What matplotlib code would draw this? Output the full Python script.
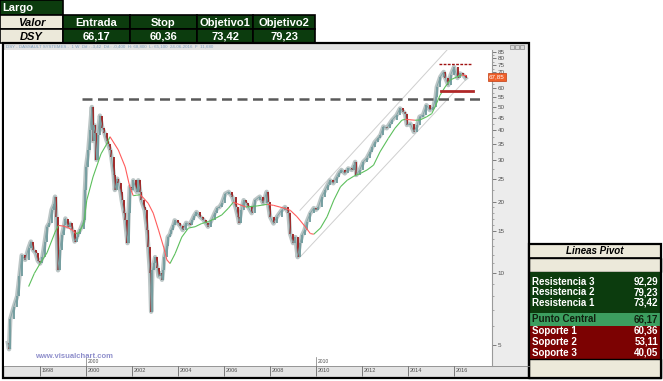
import matplotlib

matplotlib.use("Agg")
import matplotlib.pyplot as plt
import matplotlib.transforms as mtransforms
from matplotlib.collections import LineCollection
from matplotlib.patches import Rectangle
from matplotlib.ticker import FixedLocator, NullFormatter

plt.rcParams["font.family"] = ["Liberation Sans", "DejaVu Sans"]

W, H = 663, 381

# ── data ──────────────────────────────────────────────────────────────────
price_years = [
    1996.60, 1996.65, 1996.70, 1996.85, 1997.00, 1997.10, 1997.20, 1997.35, 1997.50, 1997.60,
    1997.70, 1997.80, 1997.90, 1998.00, 1998.10, 1998.20, 1998.30, 1998.40, 1998.50, 1998.60,
    1998.65, 1998.70, 1998.78, 1998.85, 1998.95, 1999.05, 1999.10, 1999.20, 1999.30, 1999.40,
    1999.50, 1999.60, 1999.65, 1999.75, 1999.90, 1999.95, 2000.00, 2000.10, 2000.17, 2000.25,
    2000.30, 2000.35, 2000.40, 2000.45, 2000.50, 2000.60, 2000.70, 2000.80, 2000.90, 2000.95,
    2001.05, 2001.10, 2001.20, 2001.25, 2001.35, 2001.40, 2001.50, 2001.55, 2001.65, 2001.70,
    2001.80, 2001.85, 2001.90, 2002.00, 2002.05, 2002.15, 2002.20, 2002.27, 2002.35, 2002.40,
    2002.50, 2002.55, 2002.65, 2002.70, 2002.78, 2002.83, 2002.88, 2002.95, 2003.00, 2003.10,
    2003.15, 2003.25, 2003.30, 2003.35, 2003.40, 2003.50, 2003.55, 2003.65, 2003.70, 2003.80,
    2003.85, 2004.00, 2004.10, 2004.20, 2004.35, 2004.50, 2004.60, 2004.70, 2004.80, 2004.95,
    2005.10, 2005.20, 2005.30, 2005.45, 2005.60, 2005.70, 2005.80, 2005.90, 2006.05, 2006.20,
    2006.35, 2006.50, 2006.60, 2006.65, 2006.75, 2006.85, 2006.95, 2007.05, 2007.20, 2007.35,
    2007.55, 2007.70, 2007.85, 2007.90, 2008.00, 2008.15, 2008.30, 2008.50, 2008.65, 2008.80,
    2008.87, 2009.00, 2009.10, 2009.20, 2009.30, 2009.40, 2009.50, 2009.60, 2009.75, 2009.90,
    2010.00, 2010.10, 2010.25, 2010.40, 2010.50, 2010.60, 2010.75, 2010.90, 2011.00, 2011.10,
    2011.25, 2011.40, 2011.55, 2011.65, 2011.70, 2011.75, 2011.90, 2012.05, 2012.20, 2012.35,
    2012.45, 2012.55, 2012.70, 2012.80, 2012.93, 2013.07, 2013.20, 2013.30, 2013.50, 2013.65,
    2013.80, 2013.87, 2013.95, 2014.10, 2014.25, 2014.40, 2014.50, 2014.65, 2014.80, 2014.95,
    2015.10, 2015.20, 2015.25, 2015.40, 2015.55, 2015.62, 2015.75, 2015.85, 2016.00, 2016.15,
    2016.25, 2016.40, 2016.50,
]
price_vals = [
    5.1, 4.8, 6.4, 7.2, 8.0, 9.7, 11.9, 11.4, 12.8, 13.6,
    12.5, 12.2, 11.3, 11.0, 11.7, 13.5, 15.7, 16.3, 18.5, 19.5,
    21.0, 17.3, 10.3, 12.5, 14.5, 16.0, 17.0, 15.7, 16.2, 15.2,
    13.6, 14.2, 14.7, 15.3, 16.7, 22.4, 28.0, 33.0, 40.0, 50.0,
    36.0, 42.0, 38.8, 30.0, 38.0, 46.0, 41.0, 38.8, 36.0, 35.0,
    33.0, 30.9, 26.0, 22.4, 25.0, 24.0, 22.0, 20.3, 18.0, 16.7,
    13.4, 18.0, 23.1, 22.5, 24.6, 23.0, 22.0, 24.6, 22.0, 20.3,
    19.0, 18.4, 15.2, 12.9, 10.0, 6.9, 10.3, 11.0, 11.7, 10.5,
    9.7, 10.0, 9.4, 10.3, 11.7, 13.0, 14.2, 14.6, 15.2, 16.0,
    16.7, 16.2, 15.8, 15.2, 16.3, 16.0, 16.7, 17.5, 18.1, 17.3,
    16.8, 16.3, 15.7, 16.7, 18.0, 18.8, 19.0, 19.7, 21.6, 22.0,
    21.0, 19.0, 17.3, 16.3, 18.5, 20.3, 19.7, 19.0, 17.9, 20.3,
    21.0, 19.7, 22.0, 20.0, 17.3, 16.2, 17.3, 18.4, 19.0, 17.9,
    14.7, 13.4, 14.2, 11.7, 13.4, 14.5, 15.2, 16.5, 17.9, 18.8,
    18.5, 19.0, 21.0, 22.4, 23.5, 24.6, 23.9, 25.4, 26.5, 27.2,
    26.3, 27.6, 27.2, 28.5, 29.4, 25.9, 27.2, 29.4, 30.4, 32.4,
    34.0, 35.6, 37.0, 38.1, 41.4, 40.7, 42.5, 44.0, 46.2, 49.3,
    47.7, 46.9, 42.0, 42.6, 39.3, 42.0, 45.5, 46.2, 50.9, 48.5,
    50.0, 55.0, 60.7, 66.9, 70.2, 66.2, 61.8, 68.1, 73.6, 66.2,
    69.2, 68.1, 66.2,
]

ma_years = [
    1997.50, 1997.75, 1998.00, 1998.30, 1998.65, 1998.80, 1999.00, 1999.20, 1999.40, 1999.55,
    1999.70, 1999.90, 2000.03, 2000.30, 2000.65, 2000.87, 2001.04, 2001.40, 2001.70, 2001.90,
    2002.05, 2002.20, 2002.35, 2002.50, 2002.70, 2002.92, 2003.15, 2003.37, 2003.51, 2003.65,
    2003.87, 2004.16, 2004.45, 2004.74, 2005.03, 2005.32, 2005.61, 2005.90, 2006.19, 2006.40,
    2006.95, 2007.44, 2007.87, 2008.16, 2008.60, 2008.88, 2009.17, 2009.53, 2009.75, 2009.90,
    2010.19, 2010.48, 2010.77, 2011.06, 2011.35, 2011.64, 2011.93, 2012.22, 2012.50, 2012.78,
    2013.14, 2013.43, 2013.73, 2013.87, 2014.30, 2014.52, 2014.81, 2015.03, 2015.17, 2015.39,
    2015.61, 2015.83, 2016.12, 2016.33, 2016.55,
]
ma_vals = [
    8.8, 10.0, 11.0, 12.2, 14.9, 15.9, 15.8, 15.6, 15.2, 14.7,
    14.8, 16.3, 20.3, 25.4, 31.8, 34.6, 37.5, 33.0, 28.0, 23.1,
    21.2, 21.3, 21.4, 20.7, 19.7, 17.9, 15.2, 12.9, 11.4, 11.0,
    12.1, 14.2, 15.5, 15.7, 16.2, 16.5, 17.0, 17.6, 18.8, 19.9,
    19.0, 19.2, 19.5, 19.3, 18.8, 18.4, 17.3, 15.7, 14.7, 14.6,
    15.5, 17.3, 20.3, 23.1, 24.6, 25.6, 26.3, 27.2, 28.5, 32.4,
    36.9, 40.7, 44.0, 44.4, 44.0, 44.1, 45.5, 46.9, 50.0, 56.0,
    60.7, 64.9, 66.9, 68.1, 67.7,
]

channel_upper_years = [2009.3, 2015.75]
channel_upper_vals = [18.4, 88.0]
channel_lower_years = [2009.3, 2016.5]
channel_lower_vals = [11.7, 65.0]

level_long = 54.0
level_long_years = [1999.83, 2017.26]
level_target = 75.5
level_target_years = [2015.35, 2016.74]
level_stop = 58.3
level_stop_years = [2015.43, 2016.83]

last_price = 66.8
last_price_text = "67,85"

year_ticks = [1998, 2000, 2002, 2004, 2006, 2008, 2010, 2012, 2014, 2016]
price_ticks = [5, 10, 15, 20, 25, 30, 35, 40, 45, 50, 55, 60, 65, 70, 75, 80, 85]
hidden_price_ticks = [65]  # sits under the last-price tag

table_headers = ["Entrada", "Stop", "Objetivo1", "Objetivo2"]
table_values = ["66,17", "60,36", "73,42", "79,23"]

pivot_labels = ["Resistencia 3", "Resistencia 2", "Resistencia 1", "Punto Central",
                "Soporte 1", "Soporte 2", "Soporte 3"]
pivot_values = ["92,29", "79,23", "73,42", "66,17", "60,36", "53,11", "40,05"]

# ── colours ───────────────────────────────────────────────────────────────
DARK_GREEN = "#0c3c0e"
BEIGE = "#ece9da"
MID_GREEN = "#3c9e5f"
DARK_RED = "#7c0202"

fig = plt.figure(figsize=(W / 100, H / 100), dpi=100)

# overlay in pixel coordinates (tables, strips, frame)
ov = fig.add_axes([0, 0, 1, 1], zorder=0)
ov.set_xlim(0, W)
ov.set_ylim(H, 0)
ov.axis("off")


def cell(x0, y0, x1, y1, fc, text="", color="white", ha="center", style="normal", size=8.0, tx=None):
    ov.add_patch(Rectangle((x0, y0), x1 - x0, y1 - y0, fc=fc, ec="black", lw=1.2))
    if text:
        if tx is None:
            tx = (x0 + x1) / 2
        ov.text(tx, (y0 + y1) / 2 + 0.5, text, color=color, ha=ha, va="center",
                fontsize=size, fontweight="bold", style=style)


# top table
cell(0, 0, 63, 15, DARK_GREEN, "Largo", ha="left", tx=2)
col_edges = [63, 130, 197, 253, 315]
cell(0, 15, 63, 29, BEIGE, "Valor", color="black", style="italic")
cell(0, 29, 63, 43, BEIGE, "DSY", color="black", style="italic")
for i, (hd, val) in enumerate(zip(table_headers, table_values)):
    cell(col_edges[i], 15, col_edges[i + 1], 29, DARK_GREEN, hd)
    cell(col_edges[i], 29, col_edges[i + 1], 43, DARK_GREEN, val)

# chart panel background strips
ov.add_patch(Rectangle((4, 44), 525, 6, fc="#e2e2e2", ec="none"))
ov.add_patch(Rectangle((492, 50), 37, 328, fc="#ececec", ec="none"))
ov.add_patch(Rectangle((4, 366), 525, 12, fc="#e4e4e4", ec="none"))
ov.plot([4, 529], [366, 366], color="#888", lw=0.6)
ov.add_patch(Rectangle((3, 43), 526, 335, fill=False, ec="black", lw=1.6))
ov.text(6, 47, "DSY - DASSAULT SYSTEMES -  1 W  Dif.: -3,42  Dif.: -0,400  H: 68,800  L: 65,100  "
        "24-06-2016  F  11,680", fontsize=3.2, color="#7c9fbe", va="center")
for bx in (510, 515, 520):
    ov.add_patch(Rectangle((bx, 44.5), 4, 4, fc="#d8d8d8", ec="#777", lw=0.4))

# pivot table
px0, px1 = 529, 661
ov.add_patch(Rectangle((px0, 244), px1 - px0, 14, fc=BEIGE, ec="black", lw=1.2))
ov.text((px0 + px1) / 2, 251.5, "Lineas Pivot", ha="center", va="center",
        fontsize=7, fontweight="bold", style="italic")
ov.add_patch(Rectangle((px0, 258), px1 - px0, 14, fc=BEIGE, ec="black", lw=1.0))
ov.add_patch(Rectangle((px0, 272), px1 - px0, 41, fc=DARK_GREEN, ec="none"))
ov.add_patch(Rectangle((px0, 313), px1 - px0, 13, fc=MID_GREEN, ec="none"))
ov.add_patch(Rectangle((px0, 326), px1 - px0, 33, fc=DARK_RED, ec="none"))
ov.add_patch(Rectangle((px0, 359), px1 - px0, 19, fc=BEIGE, ec="black", lw=1.0))
ov.add_patch(Rectangle((px0, 244), px1 - px0, 134, fill=False, ec="black", lw=1.6))
pivot_y = [281.7, 292.3, 302.7, 319.5, 330.7, 341.7, 352.7]
for lab, val, yy in zip(pivot_labels, pivot_values, pivot_y):
    tc = "#10200f" if lab == "Punto Central" else "white"
    ov.text(px0 + 3, yy, lab, color=tc, ha="left", va="center", fontsize=7, fontweight="bold")
    ov.text(px1 - 3, yy, val, color=tc, ha="right", va="center", fontsize=7, fontweight="bold")

# ── price chart ───────────────────────────────────────────────────────────
ax = fig.add_axes([4 / W, 15 / H, 488 / W, 316 / H], zorder=2)
ax.set_yscale("log")
ax.set_xlim(1996.43, 2017.65)
ax.set_ylim(4.08, 86.8)
ax.set_facecolor("white")
for side in ("top", "left", "bottom"):
    ax.spines[side].set_visible(False)
ax.spines["right"].set_color("#9a9a9a")
ax.spines["right"].set_linewidth(0.8)

# candles: wick band + bodies
opens = price_vals[:-1]
closes = price_vals[1:]
ax.plot(price_years, price_vals, color="#bcc6c6", lw=3.2, zorder=2)
body_colors = ["#6e9a9c" if c >= o else "#9c1c1c" for o, c in zip(opens, closes)]
ax.vlines(price_years[1:], opens, closes, colors=body_colors, lw=1.3, zorder=3)
ax.plot(price_years, price_vals, color="#7fa2a4", lw=0.6, zorder=3)

# moving average, coloured by slope
segs = [[(ma_years[i], ma_vals[i]), (ma_years[i + 1], ma_vals[i + 1])] for i in range(len(ma_years) - 1)]
seg_colors = ["#5cbf5c" if ma_vals[i + 1] >= ma_vals[i] else "#ff5c5c" for i in range(len(ma_years) - 1)]
ax.add_collection(LineCollection(segs, colors=seg_colors, lw=0.8, zorder=4))

# regression channel
ax.plot(channel_upper_years, channel_upper_vals, color="#cfcfcf", lw=0.7, zorder=1)
ax.plot(channel_lower_years, channel_lower_vals, color="#cfcfcf", lw=0.7, zorder=1)

# levels
ax.plot(level_long_years, [level_long] * 2, color="#5a5a5a", lw=1.8, dashes=(4, 2.2), zorder=5,
        clip_on=False)
ax.plot(level_target_years, [level_target] * 2, color="#a01010", lw=1.0, dashes=(2, 1), zorder=5)
ax.plot(level_stop_years, [level_stop] * 2, color="#b02828", lw=2.0, zorder=5)

# right axis
ax.yaxis.tick_right()
ax.yaxis.set_major_locator(FixedLocator(price_ticks))
ax.set_yticklabels(["" if v in hidden_price_ticks else str(v) for v in price_ticks])
minor = list(range(5, 20)) + [v + 2.5 for v in range(20, 85, 5)]
ax.yaxis.set_minor_locator(FixedLocator(minor))
ax.yaxis.set_minor_formatter(NullFormatter())
ax.tick_params(axis="y", which="major", direction="out", length=3, width=0.5, pad=1,
               labelsize=4.5, colors="#505050")
ax.tick_params(axis="y", which="minor", direction="out", length=1.5, width=0.4, colors="#707070")

# bottom axis: labels left-aligned beside tick lines
ax.set_xticks(year_ticks)
ax.set_xticklabels([str(y) for y in year_ticks])
ax.tick_params(axis="x", direction="out", length=7, width=0.5, pad=-5.6, labelsize=4,
               colors="#505050")
shift = mtransforms.ScaledTranslation(1.2 / 100, 0, fig.dpi_scale_trans)
for lab in ax.get_xticklabels():
    lab.set_horizontalalignment("left")
    lab.set_transform(lab.get_transform() + shift)
for yr in (2000, 2010):
    ax.axvline(yr, ymin=0, ymax=0.03, color="#777", lw=0.5)
    ax.text(yr + 0.05, 0.006, str(yr), transform=ax.get_xaxis_transform(), fontsize=3.6,
            color="#505050", ha="left", va="bottom")

ax.text(0.064, 0.02, "www.visualchart.com", transform=ax.transAxes, fontsize=5.5,
        color="#8e8ecb", fontweight="bold", ha="left", va="bottom")

# last price tag
tag_tr = mtransforms.blended_transform_factory(ax.transAxes, ax.transData)
ax.text(0.994, last_price, last_price_text, transform=tag_tr, ha="left", va="center",
        fontsize=4.5, color="white", zorder=10, clip_on=False,
        bbox=dict(boxstyle="square,pad=0.2", fc="#f0602a", ec="#c03c10", lw=0.5))

fig.savefig("out.png", dpi=100, facecolor="white")
